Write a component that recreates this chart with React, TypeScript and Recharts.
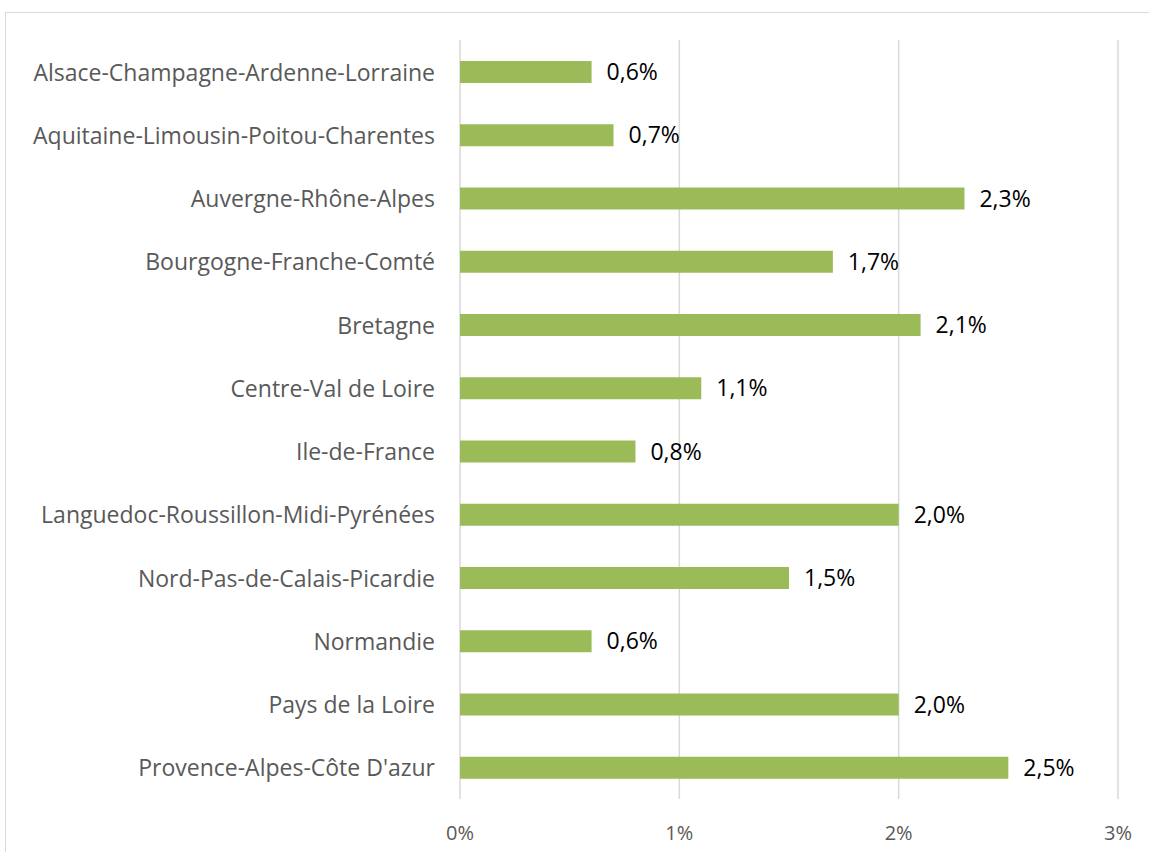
import React from "react";
import { BarChart, Bar, XAxis, YAxis, CartesianGrid, LabelList } from "recharts";

const regions = [
  "Alsace-Champagne-Ardenne-Lorraine",
  "Aquitaine-Limousin-Poitou-Charentes",
  "Auvergne-Rhône-Alpes",
  "Bourgogne-Franche-Comté",
  "Bretagne",
  "Centre-Val de Loire",
  "Ile-de-France",
  "Languedoc-Roussillon-Midi-Pyrénées",
  "Nord-Pas-de-Calais-Picardie",
  "Normandie",
  "Pays de la Loire",
  "Provence-Alpes-Côte D'azur",
];

const shares = [0.006, 0.007, 0.023, 0.017, 0.021, 0.011, 0.008, 0.02, 0.015, 0.006, 0.02, 0.025];

const xTicks = [0, 0.01, 0.02, 0.03];

const data = regions.map((region, i) => ({ region, value: shares[i] }));

const FONT = "'Open Sans', sans-serif";

const pct = (v: number, digits: number) => (v * 100).toFixed(digits).replace(".", ",") + "%";

export default function App() {
  return (
    <div
      style={{
        position: "absolute",
        left: 0,
        top: 0,
        width: 1149,
        height: 852,
        overflow: "hidden",
        background: "#fff",
        fontFamily: FONT,
      }}
    >
      <div
        style={{
          position: "absolute",
          left: 5,
          top: 12,
          width: 1200,
          height: 900,
          border: "1px solid #d9d9d9",
        }}
      />
      <div style={{ position: "absolute", left: 0, top: 0 }}>
        <BarChart
          width={1149}
          height={852}
          data={data}
          layout="vertical"
          margin={{ top: 40, right: 31, left: 0, bottom: 0 }}
          barSize={22}
        >
          <CartesianGrid horizontal={false} stroke="#d9d9d9" strokeWidth={1.5} />
          <XAxis
            type="number"
            domain={[0, 0.03]}
            ticks={xTicks}
            axisLine={false}
            tickLine={false}
            tickSize={0}
            height={53}
            tick={({ x, y, payload }: any) => (
              <text
                x={x}
                y={y + 31}
                textAnchor="middle"
                dominantBaseline="central"
                fill="#595959"
                fontSize={20}
                fontFamily={FONT}
              >
                {pct(payload.value, 0)}
              </text>
            )}
          />
          <YAxis
            type="category"
            dataKey="region"
            width={460}
            axisLine={false}
            tickLine={false}
            tickSize={0}
            tick={({ x, y, payload }: any) => (
              <text
                x={435}
                y={y}
                textAnchor="end"
                dominantBaseline="central"
                fill="#595959"
                fontSize={23}
                fontFamily={FONT}
              >
                {payload.value}
              </text>
            )}
          />
          <Bar dataKey="value" fill="#9bbb59" isAnimationActive={false}>
            <LabelList
              dataKey="value"
              position="right"
              offset={15}
              fill="#000"
              fontSize={23}
              fontFamily={FONT}
              formatter={(v: any) => pct(Number(v), 1)}
            />
          </Bar>
        </BarChart>
      </div>
    </div>
  );
}
